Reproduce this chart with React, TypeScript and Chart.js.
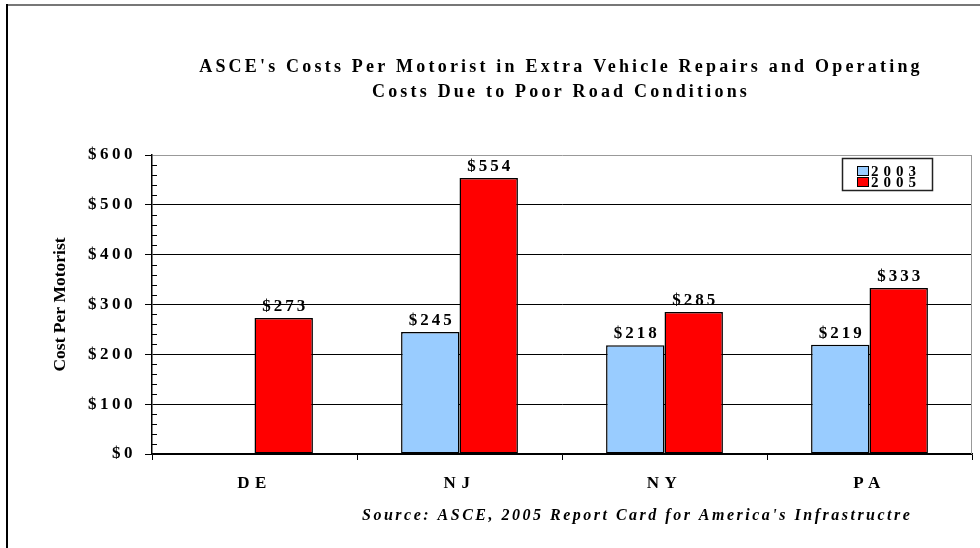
import React, { useEffect, useRef } from 'react';
import { Chart, registerables } from 'chart.js';

Chart.register(...registerables);

// ---- data ----
const categories = ['DE', 'NJ', 'NY', 'PA'];
const seriesNames = ['2003', '2005'];
const series2003: (number | null)[] = [null, 245, 218, 219];
const series2005: (number | null)[] = [273, 554, 285, 333];
const yMin = 0;
const yMax = 600;
const yStep = 100;
const yMinorStep = 20;
const titleLines = [
  "ASCE's Costs Per Motorist in Extra Vehicle Repairs and Operating",
  'Costs Due to Poor Road Conditions',
];
const yAxisTitle = 'Cost Per Motorist';
const sourceNote = "Source: ASCE, 2005 Report Card for America's Infrastructre";

const SERIF = "'Liberation Serif', 'Times New Roman', serif";
const COLORS = ['#99CCFF', '#FF0000'];

function patchLabels(scale: any, spacing: string) {
  if (scale.__lsPatched) return;
  scale.__lsPatched = true;
  const orig = scale.drawLabels;
  scale.drawLabels = function (area: any) {
    const ctx = this.ctx;
    ctx.save();
    ctx.letterSpacing = spacing;
    orig.call(this, area);
    ctx.restore();
  };
}

const decorPlugin = {
  id: 'decor',
  beforeDraw(chart: any) {
    const ctx = chart.ctx;
    ctx.save();
    ctx.fillStyle = '#ffffff';
    ctx.fillRect(0, 0, chart.width, chart.height);
    ctx.restore();
    ctx.letterSpacing = '0px';
  },
  afterDraw(chart: any) {
    const ctx = chart.ctx;
    const ca = chart.chartArea;
    const y = chart.scales.y;
    ctx.save();
    ctx.letterSpacing = '0px';

    // minor ticks on the value axis (inside)
    ctx.strokeStyle = '#000';
    ctx.lineWidth = 1;
    for (let v = yMin; v <= yMax; v += yMinorStep) {
      if (v % yStep === 0) continue;
      const py = Math.round(y.getPixelForValue(v)) + 0.5;
      ctx.beginPath();
      ctx.moveTo(ca.left, py);
      ctx.lineTo(ca.left + 5, py);
      ctx.stroke();
    }

    // plot area right border
    ctx.strokeStyle = '#999';
    ctx.beginPath();
    ctx.moveTo(ca.right - 0.5, ca.top);
    ctx.lineTo(ca.right - 0.5, ca.bottom);
    ctx.stroke();

    // outer frame (left + top)
    ctx.strokeStyle = '#777';
    ctx.lineWidth = 2;
    ctx.beginPath();
    ctx.moveTo(6, 5);
    ctx.lineTo(chart.width, 5);
    ctx.stroke();
    ctx.strokeStyle = '#000';
    ctx.beginPath();
    ctx.moveTo(7, 4);
    ctx.lineTo(7, chart.height);
    ctx.stroke();

    // data labels
    ctx.fillStyle = '#000';
    ctx.font = `bold 17px ${SERIF}`;
    ctx.textAlign = 'center';
    ctx.textBaseline = 'alphabetic';
    ctx.letterSpacing = '3px';
    chart.data.datasets.forEach((ds: any, i: number) => {
      const meta = chart.getDatasetMeta(i);
      meta.data.forEach((el: any, j: number) => {
        const v = ds.data[j];
        if (v == null) return;
        ctx.fillText('$' + v, el.x + 1.5, el.y - 7);
      });
    });

    // title
    ctx.font = `bold 18px ${SERIF}`;
    ctx.letterSpacing = '3.2px';
    ctx.textAlign = 'center';
    ctx.fillText(titleLines[0], 561, 72);
    ctx.fillText(titleLines[1], 561, 97);

    // source note
    ctx.font = `italic bold 16px ${SERIF}`;
    ctx.letterSpacing = '2.5px';
    ctx.textAlign = 'left';
    ctx.fillText(sourceNote, 362, 520);

    // legend
    const lx = 842, ly = 158, lw = 90, lh = 32;
    ctx.fillStyle = '#fff';
    ctx.fillRect(lx, ly, lw, lh);
    ctx.strokeStyle = '#222';
    ctx.lineWidth = 1.5;
    ctx.strokeRect(lx + 0.5, ly + 0.5, lw, lh);
    ctx.font = `bold 15px ${SERIF}`;
    ctx.letterSpacing = '5px';
    ctx.textAlign = 'left';
    chart.data.datasets.forEach((ds: any, i: number) => {
      const sy = ly + 8 + i * 11;
      ctx.fillStyle = ds.backgroundColor;
      ctx.fillRect(857, sy, 11, 9);
      ctx.strokeStyle = '#000';
      ctx.lineWidth = 1;
      ctx.strokeRect(857.5, sy + 0.5, 11, 9);
      ctx.fillStyle = '#000';
      ctx.fillText(ds.label, 871, sy + 10);
    });

    ctx.restore();
    ctx.letterSpacing = '0px';
  },
};

export default function App() {
  const canvasRef = useRef<HTMLCanvasElement | null>(null);

  useEffect(() => {
    const canvas = canvasRef.current;
    if (!canvas) return;
    const chart = new Chart(canvas, {
      type: 'bar',
      data: {
        labels: categories,
        datasets: [
          {
            label: seriesNames[0],
            data: series2003,
            backgroundColor: COLORS[0],
            borderColor: '#000',
            borderWidth: 1.5,
            borderSkipped: false,
            categoryPercentage: 0.57,
            barPercentage: 1,
          },
          {
            label: seriesNames[1],
            data: series2005,
            backgroundColor: COLORS[1],
            borderColor: '#000',
            borderWidth: 1.5,
            borderSkipped: false,
            categoryPercentage: 0.57,
            barPercentage: 1,
          },
        ],
      },
      options: {
        responsive: false,
        animation: false,
        events: [],
        devicePixelRatio: 1,
        layout: { padding: { left: 0, top: 155, right: 8, bottom: 0 } },
        plugins: {
          legend: { display: false },
          tooltip: { enabled: false },
          title: { display: false },
        },
        scales: {
          x: {
            grid: {
              offset: true,
              drawOnChartArea: false,
              drawTicks: true,
              tickLength: 6,
              color: '#000',
              tickColor: '#000',
            },
            border: { color: '#000', width: 1.5 },
            ticks: {
              color: '#000',
              font: { family: SERIF, size: 17, weight: 'bold' },
              padding: 13,
              maxRotation: 0,
              autoSkip: false,
            },
            afterFit: (s: any) => {
              s.height = 94;
              patchLabels(s, '5.5px');
            },
          },
          y: {
            min: yMin,
            max: yMax,
            ticks: {
              stepSize: yStep,
              color: '#000',
              font: { family: SERIF, size: 17, weight: 'bold' },
              padding: 9,
              callback: (v: any) => '$' + v,
            },
            grid: {
              color: (c: any) => (c.tick && c.tick.value === yMax ? '#999' : '#000'),
              tickColor: '#000',
              tickLength: 7,
              lineWidth: 1,
            },
            border: { color: '#000', width: 1.5 },
            title: {
              display: true,
              text: yAxisTitle,
              color: '#000',
              font: { family: SERIF, size: 17.5, weight: 'bold' },
              padding: { top: 49.5, bottom: 0 },
            },
            afterFit: (s: any) => {
              s.width = 152;
              patchLabels(s, '3.5px');
            },
          },
        },
      },
      plugins: [decorPlugin],
    });
    return () => chart.destroy();
  }, []);

  return (
    <div style={{ position: 'absolute', left: 0, top: 0, width: 980, height: 548, background: '#fff' }}>
      <canvas ref={canvasRef} width={980} height={548} style={{ display: 'block', width: 980, height: 548 }} />
    </div>
  );
}
